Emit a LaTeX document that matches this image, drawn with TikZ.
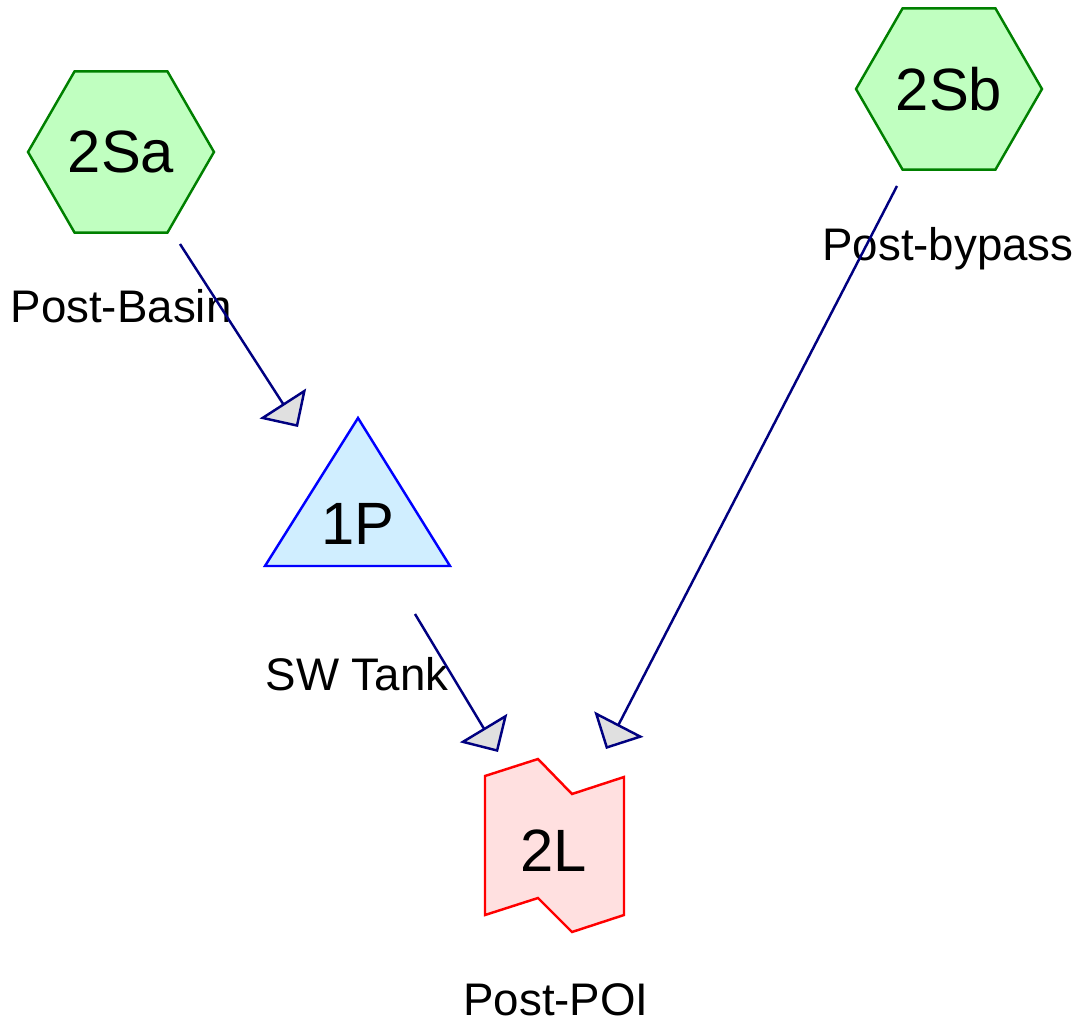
\documentclass[tikz,border=0pt]{standalone}
\usepackage{fontspec}
\setmainfont{Liberation Sans}
\usetikzlibrary{arrows.meta,shapes.geometric}
\definecolor{subfill}{HTML}{C0FFC0}
\definecolor{subline}{HTML}{008000}
\definecolor{pondfill}{HTML}{D0EEFF}
\definecolor{linkfill}{HTML}{FFE0E0}
\definecolor{flowline}{HTML}{000080}
\definecolor{tipfill}{HTML}{E0E0E0}
\tikzset{
  subcat/.style={regular polygon,regular polygon sides=6,minimum size=3.72cm,inner sep=0pt,
    draw=subline,fill=subfill,line width=1.4pt,font=\fontsize{34}{41}\selectfont},
  bigtxt/.style={font=\fontsize{34}{41}\selectfont,anchor=base,inner sep=0pt},
  caption/.style={font=\fontsize{26}{31}\selectfont,anchor=base,inner sep=0pt},
  flow/.style={draw=flowline,line width=1.4pt,
    -{Triangle[length=0.56cm,width=1.1cm,fill=tipfill,line join=miter]}},
}
\begin{document}
\begin{tikzpicture}[x=0.02cm,y=-0.02cm]
  \useasboundingbox (0,0) rectangle (1082,1024);
  % subcatchments
  \node[subcat] (2Sa) at (121,152) {2Sa};
  \node[subcat] (2Sb) at (949,89) {2Sb};
  % pond
  \draw[blue,fill=pondfill,line width=1.4pt] (358,418)--(450,566)--(265,566)--cycle;
  \node[bigtxt] (1P) at (358,544) {1P};
  % link
  \draw[red,fill=linkfill,line width=1.4pt,line join=miter]
    (485,776)--(538,759)--(572,794)--(624,777)--(624,915)--(572,932)--(538,898)--(485,915)--cycle;
  \node[bigtxt] (2L) at (554,871) {2L};
  % captions
  \node[caption] (2Sa-cap) at (121,322) {Post-Basin};
  \node[caption] (2Sb-cap) at (948,260) {Post-bypass};
  \node[caption] (1P-cap) at (357,690) {SW Tank};
  \node[caption] (2L-cap) at (556,1015) {Post-POI};
  % connector ends
  \coordinate (2Sa-out) at (180,244);
  \coordinate (2Sb-out) at (897,186);
  \coordinate (1P-out) at (415,614);
  \coordinate (1P-in) at (298,427);
  \coordinate (2L-in1) at (498,752);
  \coordinate (2L-in2) at (606,749);
  \draw[flow] (2Sa-out)--(1P-in);
  \draw[flow] (1P-out)--(2L-in1);
  \draw[flow] (2Sb-out)--(2L-in2);
\end{tikzpicture}
\end{document}
